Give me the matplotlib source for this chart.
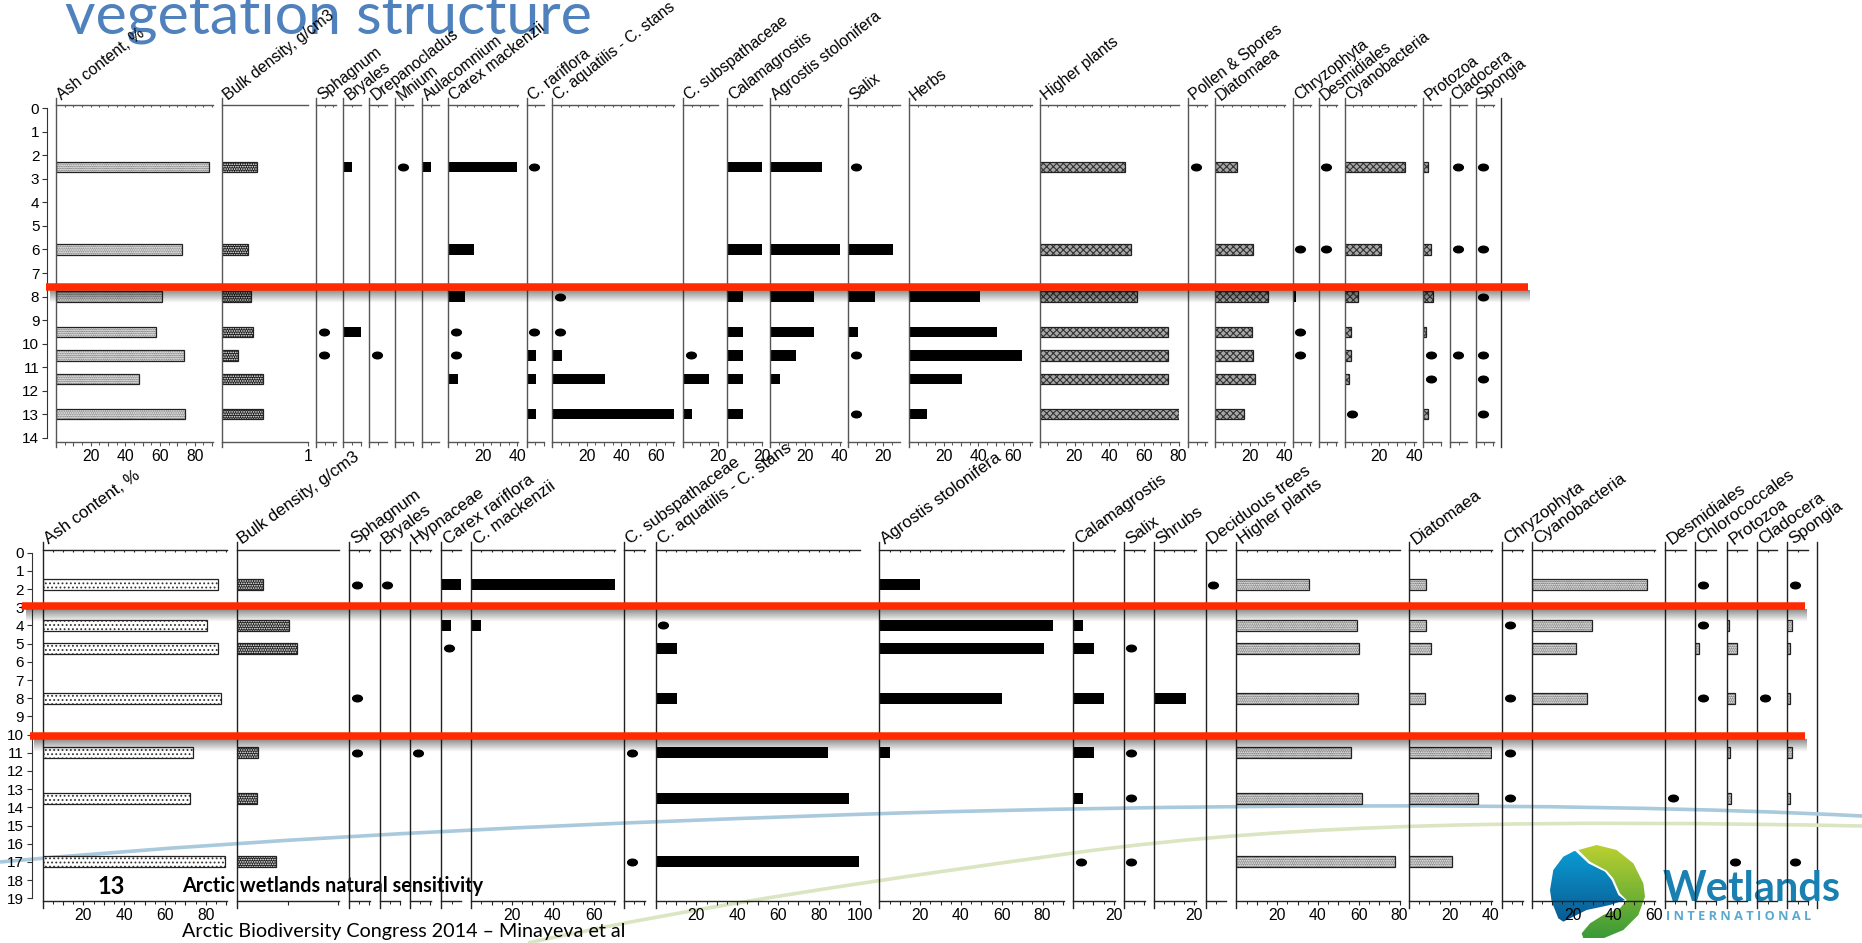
import numpy as np
import matplotlib
matplotlib.use('Agg')
import matplotlib.pyplot as plt
from matplotlib.markers import MarkerStyle
from matplotlib.patches import Polygon, PathPatch
from matplotlib.path import Path
from matplotlib.transforms import Affine2D

W, H = 1862, 943
T = -1  # trace value, drawn as a dot
plt.rcParams['font.family'] = ['Liberation Sans', 'DejaVu Sans']
plt.rcParams['hatch.linewidth'] = 0.8

# upper core
top_depths = [2.5, 6, 8, 9.5, 10.5, 11.5, 13]
top_names = ['Ash content, %', 'Bulk density, g/cm3', 'Sphagnum', 'Bryales', 'Drepanocladus', 'Mnium',
             'Aulacomnium', 'Carex mackenzii', 'C. rariflora', 'C. aquatilis - C. stans', 'C. subspathaceae',
             'Calamagrostis', 'Agrostis stolonifera', 'Salix', 'Herbs', 'Higher plants', 'Pollen & Spores',
             'Diatomaea', 'Chryzophyta', 'Desmidiales', 'Cyanobacteria', 'Protozoa', 'Cladocera', 'Spongia']
top_ash = [88, 72.4, 61, 57.4, 74, 48, 74.4]
top_bulk = [0.41, 0.30, 0.34, 0.355, 0.19, 0.48, 0.48]
top_sphagnum = [0, 0, 0, T, T, 0, 0]
top_bryales = [5, 0, 0, 10.3, 0, 0, 0]
top_drepanocladus = [0, 0, 0, 0, T, 0, 0]
top_mnium = [T, 0, 0, 0, 0, 0, 0]
top_aulacomnium = [5, 0, 0, 0, 0, 0, 0]
top_mackenzii = [40, 15, 10, T, T, 5.5, 0]
top_rariflora = [T, 0, 0, T, 5.3, 5.3, 5.3]
top_aquatilis = [0, 0, T, T, 5.5, 30.5, 70.5]
top_subspathaceae = [0, 0, 0, 0, T, 15, 5]
top_calamagrostis = [20, 20, 9.5, 9.5, 9.5, 9.5, 9.5]
top_agrostis = [30, 40, 25.4, 25.4, 15, 5.3, 0]
top_salix = [T, 25.7, 15.4, 5.6, T, 0, T]
top_herbs = [0, 0, 41, 50.8, 65.4, 30.7, 10.6]
top_higher = [48.9, 52.5, 55.9, 74, 74, 74, 80.4]
top_pollen = [T, 0, 0, 0, 0, 0, 0]
top_diatomaea = [12.6, 22, 30.4, 21.5, 22, 23, 16.8]
top_chryzophyta = [0, T, 1.7, T, T, 0, 0]
top_desmidiales = [T, T, 0, 0, 0, 0, 0]
top_cyanobacteria = [35, 20.7, 7.5, 3.9, 3.4, 2.5, T]
top_protozoa = [3, 4.5, 5.9, 1.4, T, T, 3]
top_cladocera = [T, T, 0, 0, T, 0, 0]
top_spongia = [T, T, T, 0, T, T, T]
top_series = [top_ash, top_bulk, top_sphagnum, top_bryales, top_drepanocladus, top_mnium, top_aulacomnium,
              top_mackenzii, top_rariflora, top_aquatilis, top_subspathaceae, top_calamagrostis, top_agrostis,
              top_salix, top_herbs, top_higher, top_pollen, top_diatomaea, top_chryzophyta, top_desmidiales,
              top_cyanobacteria, top_protozoa, top_cladocera, top_spongia]
top_labels = {'Ash content, %': [20, 40, 60, 80], 'Bulk density, g/cm3': [1], 'Carex mackenzii': [20, 40],
              'C. aquatilis - C. stans': [20, 40, 60], 'C. subspathaceae': [20], 'Calamagrostis': [20],
              'Agrostis stolonifera': [20, 40], 'Salix': [20], 'Herbs': [20, 40, 60],
              'Higher plants': [20, 40, 60, 80], 'Diatomaea': [20, 40], 'Cyanobacteria': [20, 40]}

# lower core
low_depths = [1.75, 4, 5.25, 8, 11, 13.5, 17]
low_names = ['Ash content, %', 'Bulk density, g/cm3', 'Sphagnum', 'Bryales', 'Hypnaceae', 'Carex rariflora',
             'C. mackenzii', 'C. subspathaceae', 'C. aquatilis - C. stans', 'Agrostis stolonifera', 'Calamagrostis',
             'Salix', 'Shrubs', 'Deciduous trees', 'Higher plants', 'Diatomaea', 'Chryzophyta', 'Cyanobacteria',
             'Desmidiales', 'Chlorococcales', 'Protozoa', 'Cladocera', 'Spongia']
low_ash = [86, 80.6, 86, 87.3, 73.8, 72.4, 89.3]
low_bulk = [0.26, 0.51, 0.59, 0, 0.21, 0.2, 0.39]
low_sphagnum = [T, 0, 0, T, T, 0, 0]
low_bryales = [T, 0, 0, 0, 0, 0, 0]
low_hypnaceae = [0, 0, 0, 0, T, 0, 0]
low_rariflora = [9.6, 4.8, T, 0, 0, 0, 0]
low_mackenzii = [71, 5, 0, 0, 0, 0, 0]
low_subspathaceae = [0, 0, 0, 0, T, 0, T]
low_aquatilis = [0, T, 10.3, 10.3, 84.5, 94.6, 99.5]
low_agrostis = [20, 85, 80.6, 60, 5, 0, 0]
low_calamagrostis = [0, 4.9, 10.5, 15.4, 10.5, 4.9, T]
low_salix = [0, 0, T, 0, T, T, T]
low_shrubs = [0, 0, 0, 16, 0, 0, 0]
low_deciduous = [T, 0, 0, 0, 0, 0, 0]
low_higher = [35.4, 59, 60.3, 59.7, 56.3, 61.5, 77.8]
low_diatomaea = [8.3, 8.3, 11, 7.7, 40, 33.8, 21.2]
low_chryzophyta = [0, T, 0, T, T, T, 0]
low_cyanobacteria = [56.3, 29.5, 21.5, 27, 0, 0, 0]
low_desmidiales = [0, 0, 0, 0, 0, T, 0]
low_chlorococcales = [T, T, 1.8, T, 0, 0, 0]
low_protozoa = [0, 0.9, 4.6, 4, 1.2, 1.8, T]
low_cladocera = [0, 0, 0, T, 0, 0, 0]
low_spongia = [T, 2.2, 1.5, 1.5, 2.2, 1.5, T]
low_series = [low_ash, low_bulk, low_sphagnum, low_bryales, low_hypnaceae, low_rariflora, low_mackenzii,
              low_subspathaceae, low_aquatilis, low_agrostis, low_calamagrostis, low_salix, low_shrubs, low_deciduous,
              low_higher, low_diatomaea, low_chryzophyta, low_cyanobacteria, low_desmidiales, low_chlorococcales,
              low_protozoa, low_cladocera, low_spongia]
low_labels = {'Ash content, %': [20, 40, 60, 80], 'C. mackenzii': [20, 40, 60],
              'C. aquatilis - C. stans': [20, 40, 60, 80, 100], 'Agrostis stolonifera': [20, 40, 60, 80],
              'Calamagrostis': [20], 'Shrubs': [20], 'Higher plants': [20, 40, 60, 80], 'Diatomaea': [20, 40],
              'Cyanobacteria': [20, 40, 60]}

# panel edges in pixels
top_lefts = [56, 222, 316, 343.4, 369.4, 395.4, 422, 448, 526.5, 552, 683, 727, 770.4, 848.3, 909, 1039.8,
             1188, 1214.8, 1292.8, 1318.5, 1344.7, 1423.2, 1450, 1475.6]
top_rights = [213, 308, 335.7, 361, 386.7, 413, 439, 517.6, 544, 674.5, 718, 762, 840.6, 900, 1032, 1179.4,
              1206.6, 1284.6, 1310.8, 1336.5, 1415.5, 1441, 1467, 1493.5]
low_lefts = [42.5, 236.5, 349, 379.5, 410, 441.4, 471.3, 624, 655.6, 879.4, 1072.9, 1123.6, 1153.6, 1205.6,
             1236.3, 1409, 1501.8, 1531.8, 1665.2, 1695.3, 1727.2, 1757.3, 1787.3]
low_rights = [227.3, 338.7, 370.3, 400, 430.5, 461, 614.8, 644.7, 860, 1063.5, 1114.8, 1144.9, 1196.2, 1225.6,
              1399.7, 1492.4, 1522.5, 1655.2, 1685.9, 1716, 1746.6, 1777.3, 1808]

# fill, stipple colour, stipple
top_fills = {'Ash content, %': ('#ffffff', '#555555', '.........'), 'Bulk density, g/cm3': ('#1c1c1c', '#ffffff', '.......')}
for n in ['Higher plants', 'Diatomaea', 'Cyanobacteria', 'Protozoa']:
    top_fills[n] = ('#a8a8a8', '#333333', 'xxxxx')
low_fills = {'Ash content, %': ('#ffffff', '#333333', '....'), 'Bulk density, g/cm3': ('#222222', '#ffffff', '.......')}
for n in ['Higher plants', 'Diatomaea', 'Cyanobacteria', 'Chlorococcales', 'Protozoa', 'Spongia']:
    low_fills[n] = ('#ffffff', '#444444', '.........')

fig = plt.figure(figsize=(W / 100, H / 100), dpi=100)
back = fig.add_axes([0, 0, 1, 1], zorder=0)
front = fig.add_axes([0, 0, 1, 1], zorder=5)
for a in (back, front):
    a.set_xlim(0, W)
    a.set_ylim(H, 0)
    a.axis('off')
    a.patch.set_alpha(0)


def axes_px(left, right, top, bottom, **kw):
    return fig.add_axes([left / W, 1 - bottom / H, (right - left) / W, (bottom - top) / H], zorder=2, **kw)


dot_marker = MarkerStyle('o', transform=Affine2D().scale(1.0, 0.68))


def draw_core(names, series, depths, labels, fills, lefts, rights, y0, dy, max_depth, ytop, ybot, lo, hi,
              px_unit, bulk_px, bar_h, trace, spine_x, name_size, name_rot, name_dx, edge, bulk_ticks):
    ylim = ((ybot - y0) / dy, (ytop - y0) / dy)
    for name, vals, l, r in zip(names, series, lefts, rights):
        ax = axes_px(l, r, ytop, ybot)
        ax.patch.set_alpha(0)
        bulk = name.startswith('Bulk')
        ax.set_xlim(0, (r - l) / (bulk_px if bulk else px_unit))
        ax.set_ylim(*ylim)
        for i, d in enumerate(depths):
            v = vals[i]
            if v == T:
                ax.plot([trace], [d], ls='', marker=dot_marker, ms=7.0, color='black', zorder=4)
            elif v > 0:
                if name in fills:
                    fc, hc, hatch = fills[name]
                    ax.barh(d, v, height=bar_h, color=fc, hatch=hatch, edgecolor=hc, linewidth=0, zorder=3)
                    ax.barh(d, v, height=bar_h, fill=False, edgecolor='#222222', linewidth=0.9, zorder=3)
                else:
                    ax.barh(d, v, height=bar_h, color='black', zorder=3)
        for s in ['left', 'right']:
            ax.spines[s].set_visible(False)
        for s in ['top', 'bottom']:
            ax.spines[s].set_color(edge)
            ax.spines[s].set_linewidth(1.0)
        ax.axvline(0, ymin=-(lo - ybot) / (ybot - ytop), ymax=1 + (ytop - hi) / (ybot - ytop), color=edge, lw=1.0,
                   clip_on=False, zorder=5)
        xmax = ax.get_xlim()[1]
        if bulk:
            major = bulk_ticks
            minor = []
        else:
            major = [t for t in range(10, int(xmax) + 1, 10)]
            minor = [t for t in range(5, int(xmax) + 1, 5)]
            ax.vlines(minor, ylim[1], ylim[1] + 2.0 / dy, color=edge, lw=0.8, zorder=2)
        shown = labels.get(name, [])
        ax.set_xticks(major)
        ax.set_xticklabels([str(t) if t in shown else '' for t in major], fontsize=11.3)
        ax.set_xticks(minor, minor=True)
        ax.tick_params(axis='x', which='major', length=3.0, width=0.8, color=edge, pad=2.5)
        ax.tick_params(axis='x', which='minor', length=2.0, width=0.7, color=edge)
        ax.set_yticks([])
        fig.text((l + name_dx) / W, 1 - (hi + 5) / H, name, rotation=name_rot, rotation_mode='anchor', ha='left',
                 va='bottom', fontsize=name_size, zorder=6)
    # depth axis
    dax = axes_px(spine_x, spine_x + 1, ytop, ybot)
    dax.patch.set_alpha(0)
    dax.set_ylim(*ylim)
    dax.set_xticks([])
    for s in ['top', 'bottom', 'right']:
        dax.spines[s].set_visible(False)
    dax.spines['left'].set_bounds(0, max_depth)
    dax.spines['left'].set_color('#333333')
    dax.set_yticks(range(max_depth + 1))
    dax.tick_params(axis='y', length=3.5, width=0.8, pad=2, labelsize=11, color='#333333')


draw_core(top_names, top_series, top_depths, top_labels, top_fills, top_lefts, top_rights,
          108.3, 23.53, 14, 105, 441.7, 447, 98, 1.735, 86, 0.45, 4.4, 47, 11.3, 38, 8, '#555555', [1])
draw_core(low_names, low_series, low_depths, low_labels, low_fills, low_lefts, low_rights,
          552.7, 18.19, 19, 549.7, 900.7, 908, 542, 2.04, 102, 0.6, 3.8, 31.6, 12.2, 36, 8, '#222222', [0.5, 1])
back.plot([1501.3, 1501.3], [98, 447], color='#333333', lw=1.0, zorder=1)
back.plot([1817.4, 1817.4], [542, 908], color='#222222', lw=1.0, zorder=1)

# swooshes of the slide template
blue_path = [(0, 862), (300, 835), (620, 822), (900, 813), (1150, 806), (1550, 800), (1862, 816)]
green_path = [(528, 943), (700, 905), (900, 877), (1073, 853), (1300, 822), (1550, 820), (1862, 826)]
codes = [Path.MOVETO] + [Path.CURVE4] * 6
back.add_patch(PathPatch(Path(blue_path, codes), fc='none', ec='#a9c9dd', lw=2.6, zorder=1))
back.add_patch(PathPatch(Path(green_path, codes), fc='none', ec='#dbe5c2', lw=2.6, zorder=1))

# title and footer
back.text(65, 33, 'vegetation structure', color='#4f81bd', fontsize=42.6, family='Lato', va='baseline', zorder=2)
back.text(97, 886, '13', fontsize=17, fontweight='bold', family='Lato', va='center', zorder=2)
back.text(182.5, 886, 'Arctic wetlands natural sensitivity', fontsize=14.3, fontweight='bold', family='Lato',
          va='center', zorder=2)
back.text(182.5, 932, 'Arctic Biodiversity Congress 2014 \u2013 Minayeva et al', fontsize=14.2, family='Lato',
          va='center', zorder=2)


# logo
def logo_part(zx, zy, top_col, bot_col):
    xs = [1530 + v / 3 for v in zx]
    ys = [830 + v / 3 for v in zy]
    poly = Polygon(list(zip(xs, ys)), closed=True, transform=back.transData, facecolor='none', edgecolor='none')
    back.add_patch(poly)
    c0, c1 = matplotlib.colors.to_rgb(top_col), matplotlib.colors.to_rgb(bot_col)
    grad = np.linspace(0, 1, 64)[:, None, None] * (np.array(c1) - np.array(c0)) + np.array(c0)
    im = back.imshow(grad, extent=[min(xs), max(xs), max(ys), min(ys)], aspect='auto', zorder=1.5)
    im.set_clip_path(poly)


logo_part([135, 175, 225, 245, 265, 285, 240, 170, 100, 85, 65, 60, 70, 100],
          [62, 100, 125, 150, 195, 210, 225, 240, 275, 265, 215, 180, 120, 80], '#0a9ad2', '#0a5a92')
logo_part([145, 200, 260, 310, 340, 345, 325, 280, 220, 160, 155, 180, 220, 270, 290, 270, 250, 230, 180],
          [60, 45, 60, 100, 160, 200, 255, 300, 325, 325, 310, 280, 255, 235, 210, 190, 145, 122, 95],
          '#bcd030', '#3a9a38')
back.set_xlim(0, W)
back.set_ylim(H, 0)
back.text(1663, 889, 'Wetlands', color='#1a80b2', fontsize=30, fontweight='bold', family='Lato', va='center', zorder=2)
back.text(1666, 917, 'I N T E R N A T I O N A L', color='#5aaad0', fontsize=9.2, fontweight='bold', family='Open Sans',
          va='center', zorder=2)

# red marker lines with their shadow
red_x0 = [46, 22, 30]
red_x1 = [1528, 1805, 1805]
red_y = [287, 606, 735.7]
shade = np.zeros((24, 1, 4))
shade[:, 0, 3] = np.linspace(0.45, 0, 24)
for x0, x1, y in zip(red_x0, red_x1, red_y):
    front.imshow(shade, extent=[x0 + 4, x1 + 2, y + 16, y + 3], aspect='auto', zorder=1)
    front.plot([x0, x1], [y, y], color='#ff2a00', lw=5.4, solid_capstyle='butt', zorder=2)
front.set_xlim(0, W)
front.set_ylim(H, 0)

fig.savefig('out.png', dpi=100)
